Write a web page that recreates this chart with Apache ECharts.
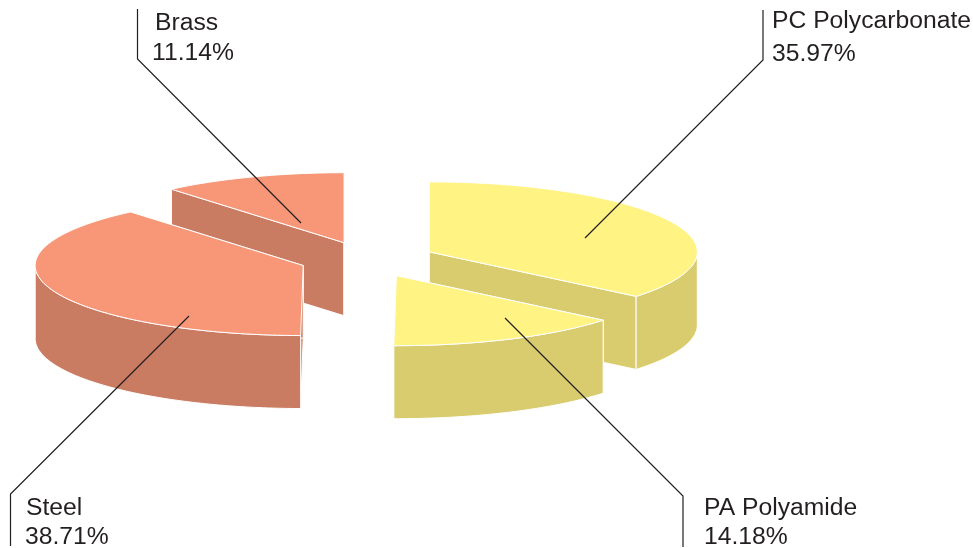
<!DOCTYPE html>
<html>
<head>
<meta charset="utf-8">
<title>Material share</title>
<script src="https://cdn.jsdelivr.net/npm/echarts@6/dist/echarts.min.js"></script>
<style>
html, body { margin: 0; padding: 0; background: #fff; }
#main { width: 973px; height: 548px; }
</style>
</head>
<body>
<div id="main"></div>
<script>
var materials = ['PC Polycarbonate', 'PA Polyamide', 'Steel', 'Brass'];
var shares = [35.97, 14.18, 38.71, 11.14];

// back to front, so nearer slices cover the walls behind them
var drawOrder = [3, 0, 2, 1];

var topColors = ['#fff384', '#fff384', '#f79777', '#f79777'];
var wallColors = ['#d9cc6e', '#d9cc6e', '#c97c62', '#c97c62'];

// pie geometry in pixels
var cx = 367.5, cy = 259.5, rx = 268, ry = 70, depth = 73, explode = 0.255;

// leader: [text end, elbow, label x, name y, percent y]
var leaders = [
    {end: [585, 238], elbow: [763, 60], tail: [763, 10], nameX: 772, pctX: 772, nameY: 21, pctY: 54},
    {end: [505, 318], elbow: [683, 496], tail: [683, 547], nameX: 704, pctX: 704, nameY: 508, pctY: 537},
    {end: [189, 316], elbow: [10.5, 494], tail: [10.5, 546], nameX: 26, pctX: 25, nameY: 508, pctY: 537},
    {end: [301, 223], elbow: [137.5, 59], tail: [137.5, 9], nameX: 155, pctX: 152, nameY: 23, pctY: 53}
];

var total = shares.reduce(function (a, b) { return a + b; }, 0);

// angle clockwise from the top of the pie, in degrees
function startAngle(idx) {
    var sum = 0;
    for (var i = 0; i < idx; i++) {
        sum += shares[i];
    }
    return sum / total * 360;
}

function rim(ox, oy, deg) {
    var a = deg * Math.PI / 180;
    return [ox + rx * Math.sin(a), oy - ry * Math.cos(a)];
}

function arc(ox, oy, from, to) {
    var pts = [];
    var steps = Math.max(2, Math.ceil(Math.abs(to - from)));
    for (var i = 0; i <= steps; i++) {
        pts.push(rim(ox, oy, from + (to - from) * i / steps));
    }
    return pts;
}

function down(pts) {
    return pts.map(function (p) { return [p[0], p[1] + depth]; }).reverse();
}

function poly(points, fill) {
    return {
        type: 'polygon',
        shape: {points: points},
        style: {fill: fill, stroke: '#fff', lineWidth: 1}
    };
}

function label(text, x, y) {
    return {
        type: 'text',
        style: {
            text: text, x: x, y: y,
            fill: '#231f20',
            font: '24.7px "Liberation Sans", Arial, sans-serif',
            verticalAlign: 'middle'
        }
    };
}

function renderSlice(params, api) {
    var idx = drawOrder[params.dataIndex];
    var value = api.value(0);
    var from = startAngle(idx);
    var to = from + value / total * 360;
    var mid = (from + to) / 2 * Math.PI / 180;
    var ox = cx + explode * rx * Math.sin(mid);
    var oy = cy - explode * ry * Math.cos(mid);
    var apex = [ox, oy];
    var wall = wallColors[idx];
    var kids = [];

    // cut faces
    [from, to].forEach(function (deg) {
        var edge = [apex, rim(ox, oy, deg)];
        kids.push(poly(edge.concat(down(edge)), wall));
    });

    // outer wall, only the part that faces the viewer
    var wallFrom = Math.max(from, 90), wallTo = Math.min(to, 270);
    if (wallTo > wallFrom) {
        var curve = arc(ox, oy, wallFrom, wallTo);
        kids.push(poly(curve.concat(down(curve)), wall));
    }

    // top face
    kids.push(poly([apex].concat(arc(ox, oy, from, to)), topColors[idx]));

    var lead = leaders[idx];
    kids.push({
        type: 'polyline',
        shape: {points: [lead.end, lead.elbow, lead.tail]},
        style: {fill: null, stroke: '#231f20', lineWidth: 1.2}
    });
    kids.push(label(materials[idx], lead.nameX, lead.nameY));
    kids.push(label(shares[idx].toFixed(2) + '%', lead.pctX, lead.pctY));

    return {type: 'group', children: kids};
}

var myChart = echarts.init(document.getElementById('main'));
myChart.setOption({
    animation: false,
    backgroundColor: '#fff',
    series: [{
        type: 'custom',
        coordinateSystem: 'none',
        renderItem: renderSlice,
        data: drawOrder.map(function (i) { return [shares[i]]; })
    }]
});
</script>
</body>
</html>
